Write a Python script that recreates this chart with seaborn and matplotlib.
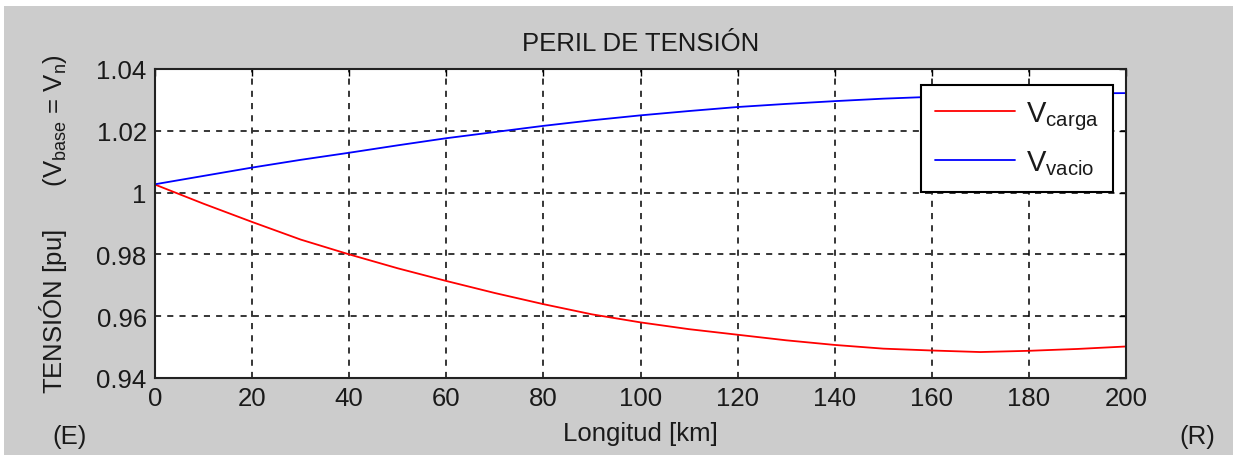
import matplotlib
matplotlib.use("Agg")
import matplotlib.pyplot as plt
import seaborn as sns
import pandas as pd
from matplotlib.patches import Rectangle

longitud_km = [0, 10, 20, 30, 40, 50, 60, 70, 80, 90, 100,
               110, 120, 130, 140, 150, 160, 170, 180, 190, 200]
v_carga = [1.0026, 0.9964, 0.9905, 0.9848, 0.9800, 0.9755, 0.9714, 0.9675,
           0.9639, 0.9606, 0.9580, 0.9558, 0.9540, 0.9522, 0.9507, 0.9495,
           0.9489, 0.9484, 0.9488, 0.9494, 0.9502]
v_vacio = [1.0027, 1.0054, 1.0081, 1.0106, 1.0129, 1.0153, 1.0176, 1.0196,
           1.0216, 1.0234, 1.0250, 1.0264, 1.0277, 1.0287, 1.0296, 1.0304,
           1.0310, 1.0315, 1.0319, 1.0321, 1.0322]
x_ticks = [0, 20, 40, 60, 80, 100, 120, 140, 160, 180, 200]
y_ticks = [0.94, 0.96, 0.98, 1.00, 1.02, 1.04]
y_tick_labels = ["0.94", "0.96", "0.98", "1", "1.02", "1.04"]

sns.set_style("white")
plt.rcParams['font.family'] = ['Liberation Sans', 'DejaVu Sans']
plt.rcParams['mathtext.default'] = 'regular'

W, H = 1233, 456
fig = plt.figure(figsize=(W / 100, H / 100), dpi=100, facecolor='#cccccc')
ax = fig.add_axes([155 / W, 1 - 379 / H, (1126 - 155) / W, (379 - 70) / H])
ax.set_facecolor('white')

# white strips on top and left border of the screenshot
fig.patches.append(Rectangle((0, 1 - 7 / H), 1, 7 / H, transform=fig.transFigure,
                             facecolor='white', edgecolor='none', zorder=-1))
fig.patches.append(Rectangle((0, 0), 4 / W, 1, transform=fig.transFigure,
                             facecolor='white', edgecolor='none', zorder=-1))

df = pd.DataFrame({"x": longitud_km, "carga": v_carga, "vacio": v_vacio})
sns.lineplot(data=df, x="x", y="carga", ax=ax, color='#ff0000', lw=1.3,
             label=r'$V_{carga}$')
sns.lineplot(data=df, x="x", y="vacio", ax=ax, color='#0000ff', lw=1.3,
             label=r'$V_{vacio}$')

ax.set_xlim(0, 200)
ax.set_ylim(0.94, 1.04)
ax.set_xticks(x_ticks)
ax.set_yticks(y_ticks)
ax.set_yticklabels(y_tick_labels)
ax.tick_params(axis='both', direction='in', length=5, width=1, color='black',
               labelsize=18.5, labelcolor='#1a1a1a', pad=6, top=True, right=True)
ax.grid(True, color='black', linestyle=(0, (4, 4)), linewidth=1.1)
for s in ax.spines.values():
    s.set_visible(True)
    s.set_color('#222222')
    s.set_linewidth(1.5)

ax.set_title("PERIL DE TENSIÓN", fontsize=18.5, color='#1a1a1a', pad=14)
ax.set_xlabel("Longitud [km]", fontsize=18.5, color='#1a1a1a', labelpad=8)
ax.set_ylabel(r"TENSIÓN [pu]      ($V_{base}$ = $V_n$)", fontsize=18.5,
              color='#1a1a1a', labelpad=20)
fig.text(70 / W, 1 - 437 / H, "(E)", fontsize=18.5, color='#1a1a1a',
         ha='center', va='center')
fig.text(1197 / W, 1 - 437 / H, "(R)", fontsize=18.5, color='#1a1a1a',
         ha='center', va='center')

leg = ax.legend(loc='upper right', bbox_to_anchor=(1113 / W, 1 - 85.5 / H),
                bbox_transform=fig.transFigure, borderaxespad=0, fontsize=21,
                handlelength=2.75, handletextpad=0.35, labelspacing=0.56,
                borderpad=0.5, fancybox=False, framealpha=1, edgecolor='black')
leg.get_frame().set_linewidth(1.5)
for t in leg.get_texts():
    t.set_color('#1a1a1a')

fig.savefig("out.png", dpi=100, facecolor=fig.get_facecolor())
